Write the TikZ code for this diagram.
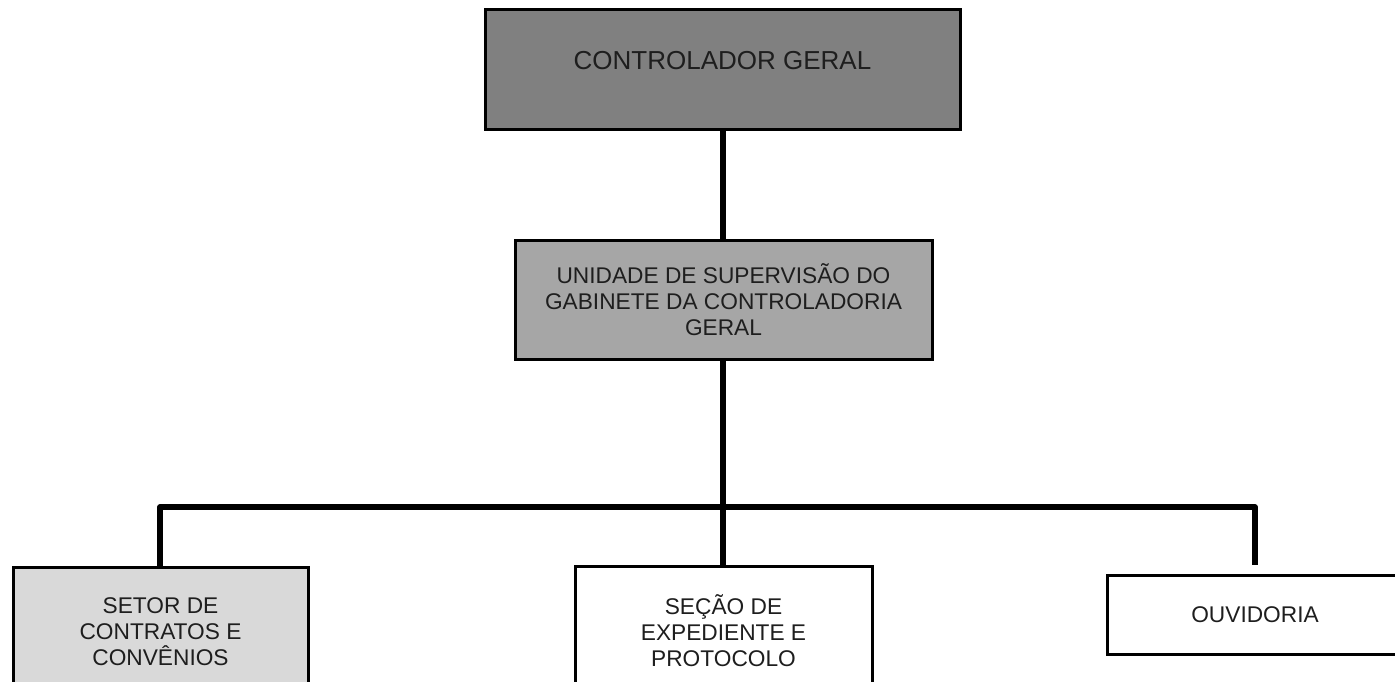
\documentclass[tikz,border=0pt]{standalone}
\usepackage{fontspec}
\setmainfont{Liberation Sans}
\definecolor{topgray}{HTML}{808080}
\definecolor{midgray}{HTML}{A6A6A6}
\definecolor{lightgray}{HTML}{D9D9D9}
\definecolor{txt}{HTML}{1E1E1E}
\begin{document}
\begin{tikzpicture}[x=1pt,y=-1pt,
  box/.style={draw=black, line width=3pt, rectangle, inner sep=0pt, align=center,
    text=txt, font=\fontsize{22.7}{26}\selectfont},
  link/.style={draw=black, line width=5.5pt, line join=round}]
\useasboundingbox (0,0) rectangle (1395,682);
\node[box, fill=topgray, minimum width=475pt, minimum height=120pt,
  font=\fontsize{26}{30}\selectfont, text height=19pt, text depth=19pt]
  (ctrl) at (722.5,70) {CONTROLADOR GERAL};
\node[box, fill=midgray, minimum width=417pt, minimum height=119pt]
  (unid) at (723.5,299.5) {UNIDADE DE SUPERVISÃO DO\\GABINETE DA CONTROLADORIA\\GERAL};
\node[box, fill=lightgray, minimum width=295pt, minimum height=129pt]
  (setor) at (160.5,631.5) {SETOR DE\\CONTRATOS E\\CONVÊNIOS};
\node[box, fill=white, minimum width=297pt, minimum height=129pt]
  (secao) at (723.5,630.5) {SEÇÃO DE\\EXPEDIENTE E\\PROTOCOLO};
\node[box, fill=white, minimum width=296pt, minimum height=79pt]
  (ouv) at (1255,614.5) {OUVIDORIA};
\coordinate (bus) at (723,507);
\coordinate (busL) at (160,507);
\coordinate (busR) at (1255,507);
\coordinate (ouvtop) at (1255,565);
\draw[link] (ctrl.south -| bus) -- (unid.north -| bus);
\draw[link] (unid.south -| bus) -- (bus);
\draw[link] (setor.north -| busL) -- (busL) -- (busR) -- (ouvtop);
\draw[link] (bus) -- (secao.north -| bus);
\end{tikzpicture}
\end{document}
